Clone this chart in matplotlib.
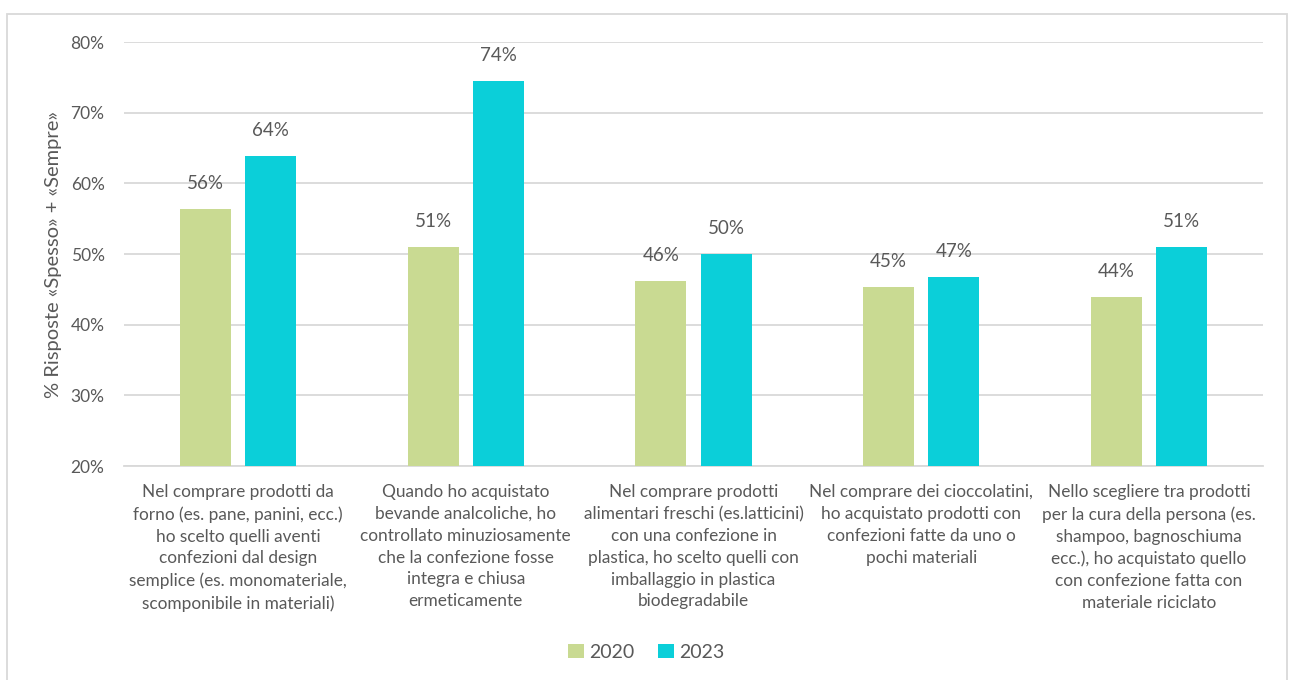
import numpy as np
import matplotlib
matplotlib.use("Agg")
import matplotlib.pyplot as plt
from matplotlib.patches import Rectangle

plt.rcParams['font.family'] = ['Lato', 'DejaVu Sans']

categories = [
    "Nel comprare prodotti da\nforno (es. pane, panini, ecc.)\nho scelto quelli aventi\nconfezioni dal design\nsemplice (es. monomateriale,\nscomponibile in materiali)",
    "Quando ho acquistato\nbevande analcoliche, ho\ncontrollato minuziosamente\nche la confezione fosse\nintegra e chiusa\nermeticamente",
    "Nel comprare prodotti\nalimentari freschi (es.latticini)\ncon una confezione in\nplastica, ho scelto quelli con\nimballaggio in plastica\nbiodegradabile",
    "Nel comprare dei cioccolatini,\nho acquistato prodotti con\nconfezioni fatte da uno o\npochi materiali",
    "Nello scegliere tra prodotti\nper la cura della persona (es.\nshampoo, bagnoschiuma\necc.), ho acquistato quello\ncon confezione fatta con\nmateriale riciclato",
]
vals_2020 = [0.564, 0.510, 0.462, 0.454, 0.439]
vals_2023 = [0.639, 0.745, 0.500, 0.467, 0.510]
series = ["2020", "2023"]
col_2020 = "#C9DA92"
col_2023 = "#0BCFD9"
txt = "#595959"

fig = plt.figure(figsize=(12.93, 6.80), dpi=100)
ax = fig.add_axes([0.0959, 0.3147, 0.8809, 0.6235])

x = np.arange(len(categories))
w = 0.224
off = 0.143
b1 = ax.bar(x - off, np.array(vals_2020) - 0.2, w, bottom=0.2, color=col_2020, label=series[0], zorder=3)
b2 = ax.bar(x + off, np.array(vals_2023) - 0.2, w, bottom=0.2, color=col_2023, label=series[1], zorder=3)

for bars, vals in [(b1, vals_2020), (b2, vals_2023)]:
    for r, v in zip(bars, vals):
        ax.text(r.get_x() + r.get_width() / 2, v + 0.024, f"{round(v * 100):.0f}%",
                ha="center", va="bottom", fontsize=13.5, color=txt)

ax.set_xlim(-0.5, len(categories) - 0.5)
ax.set_ylim(0.2, 0.8)
ax.set_yticks(np.arange(0.2, 0.81, 0.1))
ax.set_yticklabels([f"{t}%" for t in range(20, 81, 10)], fontsize=12.5, color=txt)
ax.yaxis.grid(True, color="#D9D9D9", linewidth=1.3, zorder=0)
ax.set_axisbelow(True)
for s in ["top", "right", "left"]:
    ax.spines[s].set_visible(False)
ax.spines["bottom"].set_color("#D9D9D9")
ax.spines["bottom"].set_linewidth(1.3)
ax.tick_params(axis="y", length=0, pad=14)
ax.tick_params(axis="x", length=0, pad=13)
ax.set_xticks(x)
ax.set_xticklabels(categories, fontsize=12.4, color=txt, linespacing=1.45, va="top")
ax.set_ylabel("% Risposte «Spesso» + «Sempre»", fontsize=14.5, color=txt, labelpad=6)

leg = ax.legend(loc="center", bbox_to_anchor=(0.5, 0.041), bbox_transform=fig.transFigure,
                ncol=2, frameon=False, fontsize=14, handlelength=0.8, handleheight=0.8,
                handletextpad=0.3, columnspacing=1.2, labelcolor=txt)

fig.patches.append(Rectangle((7 / 1293, -0.01), 1280 / 1293, 1 - 14 / 680 + 0.01,
                             transform=fig.transFigure, fill=False,
                             edgecolor="#D9D9D9", linewidth=1.3))

fig.savefig("out.png", dpi=100)
